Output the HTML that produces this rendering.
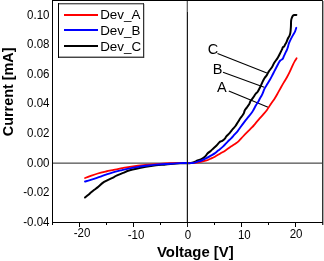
<!DOCTYPE html>
<html><head><meta charset="utf-8"><style>
html,body{margin:0;padding:0;background:#fff;width:324px;height:261px;overflow:hidden}
svg{display:block;will-change:transform}
text{font-family:"Liberation Sans",sans-serif}
</style></head><body>
<svg width="324" height="261" viewBox="0 0 324 261" xmlns="http://www.w3.org/2000/svg">
<rect width="324" height="261" fill="#fff"/>
<g shape-rendering="crispEdges" fill="none">
<rect x="53" y="162" width="269" height="1" fill="#aaa"/>
<rect x="53" y="163" width="269" height="1" fill="#777"/>
<rect x="186" y="1" width="1" height="221" fill="#ccc"/>
<line x1="187.5" y1="0" x2="187.5" y2="227" stroke="#1a1a1a"/>
<line x1="187.5" y1="1" x2="187.5" y2="12" stroke="#666"/>
<line x1="52.5" y1="0" x2="52.5" y2="225" stroke="#000"/>
<line x1="52" y1="0.5" x2="323" y2="0.5" stroke="#000"/>
<line x1="322.5" y1="0" x2="322.5" y2="225" stroke="#333"/>
<rect x="323" y="1" width="1" height="224" fill="#aaa"/>
<line x1="52" y1="222.5" x2="323" y2="222.5" stroke="#000"/>
<path d="M79.5 223V227M133.5 223V227M241.5 223V227M295.5 223V227M106.5 223V225M160.5 223V225M214.5 223V225M268.5 223V225" stroke="#000"/>
</g>
<g font-size="12" text-anchor="end" fill="#000">
<text transform="translate(49.5,18.8) scale(0.96,1)">0.10</text>
<text transform="translate(49.5,48.0) scale(0.96,1)">0.08</text>
<text transform="translate(49.5,77.7) scale(0.96,1)">0.06</text>
<text transform="translate(49.5,107.3) scale(0.96,1)">0.04</text>
<text transform="translate(49.5,137.1) scale(0.96,1)">0.02</text>
<text transform="translate(49.5,166.7) scale(0.96,1)">0.00</text>
<text transform="translate(49.5,196.3) scale(0.96,1)">-0.02</text>
<text transform="translate(49.5,225.8) scale(0.96,1)">-0.04</text>
</g>
<g font-size="12" text-anchor="middle" fill="#000">
<text transform="translate(82,237.3) scale(0.96,1)">-20</text>
<text transform="translate(136.1,238.8) scale(0.96,1)">-10</text>
<text transform="translate(188,238.5) scale(0.96,1)">0</text>
<text transform="translate(244.3,239.3) scale(0.96,1)">10</text>
<text transform="translate(296.1,237.8) scale(0.96,1)">20</text>
</g>
<text x="157" y="257.3" font-size="14.9" font-weight="bold">Voltage [V]</text>
<text transform="translate(12.6,136.2) rotate(-90)" font-size="14.4" font-weight="bold">Current [mA]</text>
<g shape-rendering="crispEdges">
<rect x="58" y="3" width="86" height="55" fill="#fff"/>
<rect x="59" y="3" width="85" height="1" fill="#555"/>
<rect x="59" y="4" width="84" height="1" fill="#bbb"/>
<rect x="59" y="56" width="84" height="1" fill="#aaa"/>
<rect x="59" y="57" width="85" height="1" fill="#444"/>
<rect x="58" y="3" width="1" height="55" fill="#000"/>
<rect x="143" y="3" width="1" height="55" fill="#333"/>
<rect x="144" y="4" width="1" height="54" fill="#ccc"/>
</g>
<g shape-rendering="crispEdges">
<rect x="64" y="14" width="34" height="2" fill="#f00"/>
<rect x="64" y="29" width="34" height="2" fill="#00f"/>
<rect x="64" y="45" width="34" height="2" fill="#000"/>
</g>
<g font-size="13.4" fill="#000">
<text x="100.2" y="19.4">Dev_A</text>
<text x="100.2" y="35">Dev_B</text>
<text x="100.2" y="50.6">Dev_C</text>
</g>
<g font-size="14.5" fill="#000">
<text x="207.8" y="54.4">C</text>
<text x="212.8" y="74">B</text>
<text x="217" y="92.4">A</text>
</g>
<g stroke="#000" stroke-width="1.1" fill="none">
<line x1="217.5" y1="53.6" x2="266.9" y2="72.9"/>
<line x1="223" y1="72.3" x2="264.2" y2="87.3"/>
<line x1="228.8" y1="90.9" x2="268.1" y2="107.2"/>
</g>
<g fill="none" stroke-linejoin="round" stroke-linecap="round">
<path stroke="#000" stroke-width="2" d="M85.00,197.50 C85.52,197.08 87.07,195.87 88.10,195.00 C89.13,194.13 90.17,193.17 91.20,192.30 C92.23,191.43 93.23,190.62 94.30,189.80 C95.37,188.98 95.97,188.72 97.60,187.40 C99.23,186.08 101.43,183.58 104.10,181.90 C106.77,180.22 111.53,178.35 113.60,177.30 C115.67,176.25 114.90,176.33 116.50,175.60 C118.10,174.87 120.98,173.78 123.20,172.90 C125.42,172.02 126.03,171.32 129.80,170.30 C133.57,169.28 141.45,167.65 145.80,166.80 C150.15,165.95 152.57,165.60 155.90,165.20 C159.23,164.80 161.78,164.73 165.80,164.40 C169.82,164.07 175.80,163.43 180.00,163.20 C184.20,162.97 188.07,163.45 191.00,163.00 C193.93,162.55 195.80,161.18 197.60,160.50 C199.40,159.82 200.58,159.52 201.80,158.90 C203.02,158.28 203.92,157.73 204.90,156.80 C205.88,155.87 206.73,154.28 207.70,153.30 C208.67,152.32 209.75,151.72 210.70,150.90 C211.65,150.08 212.47,149.27 213.40,148.40 C214.33,147.53 215.35,146.67 216.30,145.70 C217.25,144.73 218.37,143.32 219.10,142.60 C219.83,141.88 220.18,141.70 220.70,141.40 C221.22,141.10 221.50,141.27 222.20,140.80 C222.90,140.33 224.22,139.35 224.90,138.60 C225.58,137.85 225.48,137.25 226.30,136.30 C227.12,135.35 228.73,134.08 229.80,132.90 C230.87,131.72 231.75,130.35 232.70,129.20 C233.65,128.05 234.62,127.20 235.50,126.00 C236.38,124.80 237.17,123.33 238.00,122.00 C238.83,120.67 239.77,119.08 240.50,118.00 C241.23,116.92 241.83,116.32 242.40,115.50 C242.97,114.68 243.52,113.93 243.90,113.10 C244.28,112.27 244.32,111.30 244.70,110.50 C245.08,109.70 245.72,108.97 246.20,108.30 C246.68,107.63 247.05,107.28 247.60,106.50 C248.15,105.72 249.03,104.48 249.50,103.60 C249.97,102.72 249.80,102.18 250.40,101.20 C251.00,100.22 252.25,98.90 253.10,97.70 C253.95,96.50 254.73,95.00 255.50,94.00 C256.27,93.00 256.88,92.93 257.70,91.70 C258.52,90.47 259.67,88.07 260.40,86.60 C261.13,85.13 261.63,83.92 262.10,82.90 C262.57,81.88 262.78,81.32 263.20,80.50 C263.62,79.68 264.00,78.90 264.60,78.00 C265.20,77.10 266.12,76.17 266.80,75.10 C267.48,74.03 267.82,72.95 268.70,71.60 C269.58,70.25 271.20,68.45 272.10,67.00 C273.00,65.55 273.25,64.30 274.10,62.90 C274.95,61.50 276.37,59.88 277.20,58.60 C278.03,57.32 278.45,56.43 279.10,55.20 C279.75,53.97 280.57,52.27 281.10,51.20 C281.63,50.13 282.02,49.45 282.30,48.80 C282.58,48.15 282.48,47.72 282.80,47.30 C283.12,46.88 283.82,46.77 284.20,46.30 C284.58,45.83 284.73,45.17 285.10,44.50 C285.47,43.83 285.95,43.27 286.40,42.30 C286.85,41.33 287.32,39.72 287.80,38.70 C288.28,37.68 288.88,37.13 289.30,36.20 C289.72,35.27 290.03,34.63 290.30,33.10 C290.57,31.57 290.77,29.02 290.90,27.00 C291.03,24.98 290.97,22.47 291.10,21.00 C291.23,19.53 291.45,19.02 291.70,18.20 C291.95,17.38 292.18,16.63 292.60,16.10 C293.02,15.57 293.57,15.20 294.20,15.00 C294.83,14.80 296.03,14.92 296.40,14.90"/>
<path stroke="#f00" stroke-width="1.8" d="M85.00,178.00 C85.83,177.68 87.87,176.85 90.00,176.10 C92.13,175.35 95.13,174.27 97.80,173.50 C100.47,172.73 103.33,172.10 106.00,171.50 C108.67,170.90 111.13,170.45 113.80,169.90 C116.47,169.35 119.33,168.70 122.00,168.20 C124.67,167.70 125.87,167.43 129.80,166.90 C133.73,166.37 141.23,165.45 145.60,165.00 C149.97,164.55 151.93,164.50 156.00,164.20 C160.07,163.90 165.17,163.38 170.00,163.20 C174.83,163.02 181.17,163.13 185.00,163.10 C188.83,163.07 190.37,163.20 193.00,163.00 C195.63,162.80 198.53,162.33 200.80,161.90 C203.07,161.47 205.00,160.92 206.60,160.40 C208.20,159.88 209.02,159.42 210.40,158.80 C211.78,158.18 213.25,157.58 214.90,156.70 C216.55,155.82 218.53,154.55 220.30,153.50 C222.07,152.45 223.73,151.55 225.50,150.40 C227.27,149.25 229.15,147.78 230.90,146.60 C232.65,145.42 234.62,144.30 236.00,143.30 C237.38,142.30 238.03,141.73 239.20,140.60 C240.37,139.47 241.58,137.98 243.00,136.50 C244.42,135.02 246.17,133.25 247.70,131.70 C249.23,130.15 250.90,128.60 252.20,127.20 C253.50,125.80 254.35,124.63 255.50,123.30 C256.65,121.97 257.83,120.63 259.10,119.20 C260.37,117.77 261.82,116.20 263.10,114.70 C264.38,113.20 265.45,112.07 266.80,110.20 C268.15,108.33 269.93,105.38 271.20,103.50 C272.47,101.62 273.40,100.45 274.40,98.90 C275.40,97.35 276.12,96.10 277.20,94.20 C278.28,92.30 279.82,89.43 280.90,87.50 C281.98,85.57 282.72,84.27 283.70,82.60 C284.68,80.93 285.80,79.28 286.80,77.50 C287.80,75.72 288.67,74.05 289.70,71.90 C290.73,69.75 292.12,66.45 293.00,64.60 C293.88,62.75 294.40,61.85 295.00,60.80 C295.60,59.75 296.33,58.72 296.60,58.30"/>
<path stroke="#00f" stroke-width="1.9" d="M85.00,181.50 C85.83,181.28 88.25,180.72 90.00,180.20 C91.75,179.68 93.75,179.00 95.50,178.40 C97.25,177.80 98.75,177.23 100.50,176.60 C102.25,175.97 103.78,175.35 106.00,174.60 C108.22,173.85 111.13,172.85 113.80,172.10 C116.47,171.35 119.33,170.72 122.00,170.10 C124.67,169.48 127.30,168.90 129.80,168.40 C132.30,167.90 134.33,167.53 137.00,167.10 C139.67,166.67 142.65,166.22 145.80,165.80 C148.95,165.38 152.57,164.90 155.90,164.60 C159.23,164.30 161.78,164.25 165.80,164.00 C169.82,163.75 175.47,163.27 180.00,163.10 C184.53,162.93 190.18,163.22 193.00,163.00 C195.82,162.78 195.47,162.22 196.90,161.80 C198.33,161.38 199.92,161.15 201.60,160.50 C203.28,159.85 205.45,158.72 207.00,157.90 C208.55,157.08 209.62,156.35 210.90,155.60 C212.18,154.85 213.50,154.23 214.70,153.40 C215.90,152.57 216.68,151.77 218.10,150.60 C219.52,149.43 221.63,147.87 223.20,146.40 C224.77,144.93 226.18,143.13 227.50,141.80 C228.82,140.47 229.95,139.58 231.10,138.40 C232.25,137.22 233.30,135.92 234.40,134.70 C235.50,133.48 236.67,132.38 237.70,131.10 C238.73,129.82 239.42,128.63 240.60,127.00 C241.78,125.37 243.47,123.02 244.80,121.30 C246.13,119.58 247.33,118.28 248.60,116.70 C249.87,115.12 251.53,113.03 252.40,111.80 C253.27,110.57 253.18,110.43 253.80,109.30 C254.42,108.17 255.38,106.22 256.10,105.00 C256.82,103.78 257.45,103.12 258.10,102.00 C258.75,100.88 259.33,99.53 260.00,98.30 C260.67,97.07 261.32,96.25 262.10,94.60 C262.88,92.95 263.83,90.15 264.70,88.40 C265.57,86.65 266.43,85.53 267.30,84.10 C268.17,82.67 269.02,81.37 269.90,79.80 C270.78,78.23 271.87,76.10 272.60,74.70 C273.33,73.30 273.47,73.02 274.30,71.40 C275.13,69.78 276.78,66.57 277.60,65.00 C278.42,63.43 278.70,62.78 279.20,62.00 C279.70,61.22 280.02,60.83 280.60,60.30 C281.18,59.77 282.15,59.50 282.70,58.80 C283.25,58.10 283.47,57.05 283.90,56.10 C284.33,55.15 284.80,54.15 285.30,53.10 C285.80,52.05 286.45,50.87 286.90,49.80 C287.35,48.73 287.67,47.77 288.00,46.70 C288.33,45.63 288.47,44.58 288.90,43.40 C289.33,42.22 289.97,40.90 290.60,39.60 C291.23,38.30 291.97,36.93 292.70,35.60 C293.43,34.27 294.40,32.90 295.00,31.60 C295.60,30.30 296.08,28.43 296.30,27.80"/>
</g>
<rect x="187" y="150" width="1" height="20" fill="#1a1a1a" shape-rendering="crispEdges"/>
</svg>
</body></html>
